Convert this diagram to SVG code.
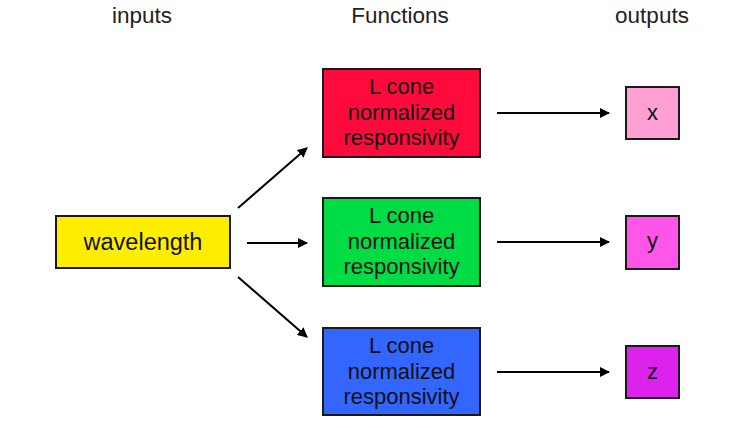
<svg xmlns="http://www.w3.org/2000/svg" width="751" height="428" viewBox="0 0 751 428">
<style>
  text { font-family: "Liberation Sans", Arial, sans-serif; font-size: 22px; fill: #111; text-anchor: middle; }
  .hdr { font-size: 22.5px; fill: #222; }
  .big { font-size: 23.5px; }
  .box { stroke: #1a1a1a; stroke-width: 2; }
  .conn line { stroke: #000; stroke-width: 2; fill: none; }
</style>
<defs>
  <marker id="ah" viewBox="0 0 10 10" refX="9" refY="5" markerWidth="5" markerHeight="5" orient="auto" markerUnits="strokeWidth">
    <path d="M0,0 L10,5 L0,10 z" fill="#000"/>
  </marker>
</defs>
<rect width="751" height="428" fill="#fff"/>
<g id="headers">
  <text class="hdr" x="142" y="23">inputs</text>
  <text class="hdr" x="400" y="23">Functions</text>
  <text class="hdr" x="652" y="23">outputs</text>
</g>
<g id="wavelength">
  <rect class="box" x="56" y="216" width="174" height="52" fill="#ffee00"/>
  <text class="big" x="143" y="250">wavelength</text>
</g>
<g id="func-red">
  <rect class="box" x="323" y="69" width="157" height="88" fill="#ff0a3c"/>
  <text x="401.5" y="94">L cone</text>
  <text x="401.5" y="119.5">normalized</text>
  <text x="401.5" y="145">responsivity</text>
</g>
<g id="func-green">
  <rect class="box" x="323" y="198" width="157" height="88" fill="#00dd44"/>
  <text x="401.5" y="223">L cone</text>
  <text x="401.5" y="248.5">normalized</text>
  <text x="401.5" y="274">responsivity</text>
</g>
<g id="func-blue">
  <rect class="box" x="323" y="328" width="157" height="87" fill="#3366ff"/>
  <text x="401.5" y="353">L cone</text>
  <text x="401.5" y="378.5">normalized</text>
  <text x="401.5" y="404">responsivity</text>
</g>
<g id="out-x">
  <rect class="box" x="626" y="87" width="53" height="52" fill="#ffa0d2"/>
  <text x="652.5" y="120">x</text>
</g>
<g id="out-y">
  <rect class="box" x="626" y="216" width="53" height="53" fill="#ff55e8"/>
  <text x="652.5" y="248">y</text>
</g>
<g id="out-z">
  <rect class="box" x="626" y="346" width="53" height="52" fill="#dd22ee"/>
  <text x="652.5" y="379">z</text>
</g>
<g id="connectors" class="conn">
  <line x1="238" y1="208" x2="307" y2="148" marker-end="url(#ah)"/>
  <line x1="247" y1="243" x2="307" y2="243" marker-end="url(#ah)"/>
  <line x1="238" y1="277" x2="307" y2="337" marker-end="url(#ah)"/>
  <line x1="497" y1="113" x2="609" y2="113" marker-end="url(#ah)"/>
  <line x1="497" y1="242" x2="609" y2="242" marker-end="url(#ah)"/>
  <line x1="497" y1="372" x2="609" y2="372" marker-end="url(#ah)"/>
</g>
</svg>
